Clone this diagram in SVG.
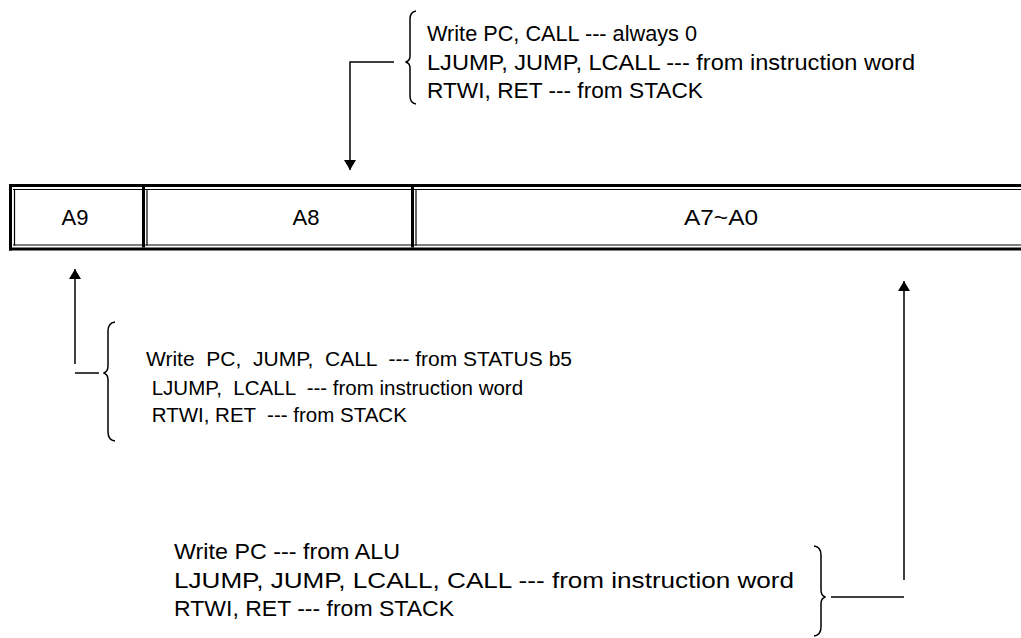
<svg xmlns="http://www.w3.org/2000/svg" width="1021" height="638" viewBox="0 0 1021 638">
<defs>
<style>
text{font-family:"Liberation Sans",Arial,sans-serif;font-size:22px;fill:#000}
.c{text-anchor:middle}
.m{font-size:20.5px}
.thick{stroke:#000;stroke-width:3;fill:none}
.thin{stroke:#000;stroke-width:1.2;fill:none}
.ln{stroke:#000;stroke-width:1.5;fill:none}
.br{stroke:#000;stroke-width:1.5;fill:none}
</style>
<marker id="ah" viewBox="0 0 10 12" refX="10" refY="6" markerWidth="13" markerHeight="12" markerUnits="userSpaceOnUse" orient="auto">
<path d="M0,0 L10,6 L0,12 Z" fill="#000"/>
</marker>
</defs>
<rect width="1021" height="638" fill="#fff"/>
<g id="register">
<line class="thick" x1="9" y1="185.5" x2="1030" y2="185.5"/>
<line class="thin" x1="13" y1="189.5" x2="1030" y2="189.5"/>
<line class="thin" x1="13" y1="245" x2="1030" y2="245"/>
<line class="thick" x1="9" y1="249" x2="1030" y2="249"/>
<line class="thick" x1="10.5" y1="184" x2="10.5" y2="250.5"/>
<line class="thin" x1="14.5" y1="189" x2="14.5" y2="245.5"/>
<line class="thick" x1="143.5" y1="187" x2="143.5" y2="247.5"/>
<line class="thin" x1="147" y1="189" x2="147" y2="245.5"/>
<line class="thick" x1="412.5" y1="187" x2="412.5" y2="247.5"/>
<line class="thin" x1="416" y1="189" x2="416" y2="245.5"/>
</g>
<g id="cell-a9"><text class="c" x="75" y="225">A9</text></g>
<g id="cell-a8"><text class="c" x="306" y="225">A8</text></g>
<g id="cell-a7a0"><text class="c" x="721" y="225" textLength="74" lengthAdjust="spacingAndGlyphs">A7~A0</text></g>
<g id="note-top">
<path class="br" d="M416,11 Q410,12 410,19 L410,56 Q410,61 405.5,62 Q410,63 410,68 L410,96 Q410,103 416,104"/>
<text x="427" y="41" textLength="270" lengthAdjust="spacingAndGlyphs">Write PC, CALL --- always 0</text>
<text x="427" y="70" textLength="488" lengthAdjust="spacingAndGlyphs">LJUMP, JUMP, LCALL --- from instruction word</text>
<text x="427" y="98" textLength="276" lengthAdjust="spacingAndGlyphs">RTWI, RET --- from STACK</text>
</g>
<g id="note-mid">
<path class="br" d="M115,322 Q108,323 108,331 L108,366 Q108,372 103.5,373 Q108,374 108,380 L108,432 Q108,440 115,441"/>
<text class="m" x="146" y="366" xml:space="preserve" textLength="426" lengthAdjust="spacingAndGlyphs">Write  PC,  JUMP,  CALL  --- from STATUS b5</text>
<text class="m" x="146" y="395" xml:space="preserve"> LJUMP,  LCALL  --- from instruction word</text>
<text class="m" x="146" y="422" xml:space="preserve"> RTWI, RET  --- from STACK</text>
</g>
<g id="note-bottom">
<path class="br" d="M814,546 Q821,547 821,555 L821,590 Q821,596 825.5,597 Q821,598 821,604 L821,627 Q821,635 814,636"/>
<text x="174" y="559" textLength="226" lengthAdjust="spacingAndGlyphs">Write PC --- from ALU</text>
<text x="174" y="588" textLength="620" lengthAdjust="spacingAndGlyphs">LJUMP, JUMP, LCALL, CALL --- from instruction word</text>
<text x="174" y="616" textLength="280" lengthAdjust="spacingAndGlyphs">RTWI, RET --- from STACK</text>
</g>
<g id="connectors">
<polyline class="ln" points="394,62 350,62 350,170" marker-end="url(#ah)"/>
<polyline class="ln" points="75,364 75,269" marker-end="url(#ah)"/>
<line class="ln" x1="75" y1="373" x2="99" y2="373"/>
<polyline class="ln" points="904,580 904,281" marker-end="url(#ah)"/>
<line class="ln" x1="831" y1="597" x2="904" y2="597"/>
</g>
</svg>
